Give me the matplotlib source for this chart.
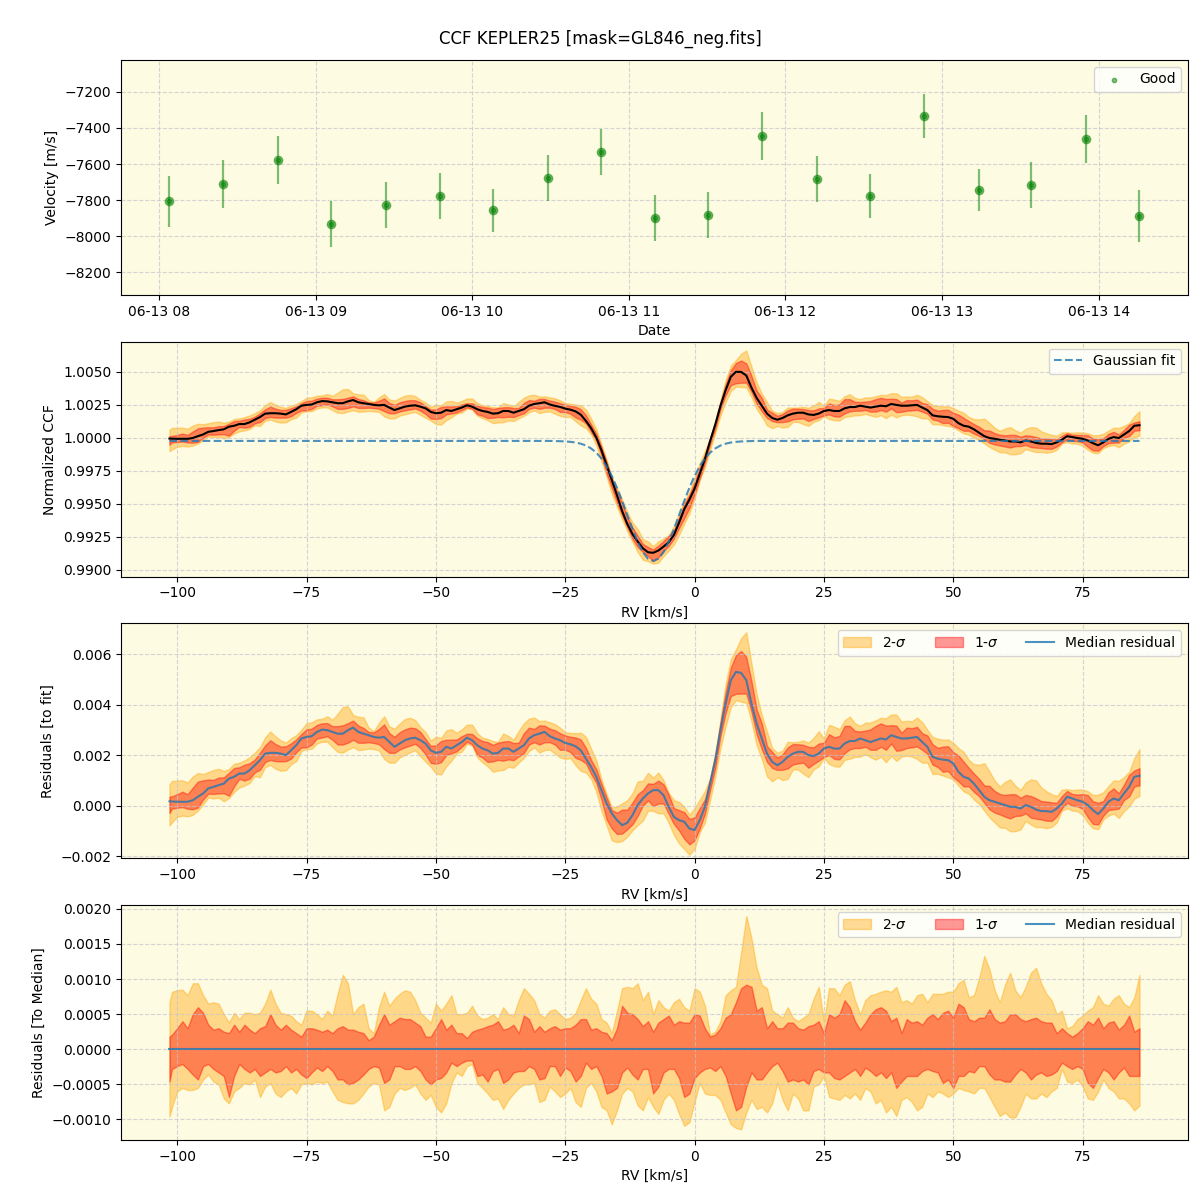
import numpy as np
import pandas as pd
import matplotlib
matplotlib.use("Agg")
import matplotlib.pyplot as plt
import matplotlib.dates as mdates

# ---------------- data: RV time series ----------------
obs_times = ["2023-06-13 08:04:00", "2023-06-13 08:24:30", "2023-06-13 08:45:30",
             "2023-06-13 09:06:00", "2023-06-13 09:27:00", "2023-06-13 09:47:30",
             "2023-06-13 10:08:00", "2023-06-13 10:29:00", "2023-06-13 10:49:30",
             "2023-06-13 11:10:00", "2023-06-13 11:30:30", "2023-06-13 11:51:00",
             "2023-06-13 12:12:00", "2023-06-13 12:32:30", "2023-06-13 12:53:00",
             "2023-06-13 13:14:00", "2023-06-13 13:34:00", "2023-06-13 13:55:00",
             "2023-06-13 14:15:40"]
velocity = [-7806, -7711, -7578, -7933, -7828, -7778, -7856, -7678, -7533, -7900,
            -7883, -7444, -7683, -7778, -7333, -7744, -7717, -7461, -7889]
velocity_err = [141, 132, 131, 127, 128, 127, 119, 129, 128, 128,
                128, 131, 127, 123, 121, 117, 127, 135, 143]

# ---------------- data: CCF profiles ----------------
rv_grid = [-101.5] + list(range(-101, 87))

# Gaussian fit (baseline and dip depth, depth in units of 1e-5)
fit_baseline = 0.99975
fit_dip_rv = list(range(-27, 12))
fit_dip_depth = [1, 2, 4, 7, 12, 21, 35, 57, 89, 133, 192, 266, 355, 455, 563, 669, 765,
                 843, 893, 910, 893, 843, 765, 669, 563, 455, 355, 266, 192, 133, 89, 57,
                 35, 21, 12, 7, 4, 2, 1]

# median residual to fit (units 1e-5)
resid_median = [18, 17, 16, 16, 16, 22, 36, 49, 69, 75, 82, 88, 108, 115, 128, 128, 141, 161,
                181, 207, 210, 210, 207, 201, 220, 240, 267, 273, 276, 293, 302, 300, 293, 286,
                286, 300, 310, 293, 286, 280, 273, 270, 273, 253, 234, 247, 260, 267, 270, 260,
                247, 220, 210, 214, 234, 227, 240, 253, 270, 260, 240, 227, 220, 207, 210, 227,
                227, 214, 227, 240, 267, 280, 286, 293, 276, 267, 260, 249, 244, 236, 220, 187,
                154, 115, 62, 9, -30, -57, -77, -67, -37, 3, 29, 49, 62, 62, 42, -4, -44, -57,
                -63, -90, -96, -57, -4, 88, 181, 300, 405, 498, 531, 527, 498, 405, 326, 267,
                207, 174, 161, 174, 194, 207, 214, 214, 201, 197, 207, 227, 234, 227, 227, 247,
                257, 257, 267, 260, 253, 260, 267, 263, 280, 273, 267, 267, 270, 273, 253, 234,
                194, 187, 183, 181, 168, 135, 115, 108, 88, 62, 36, 22, 16, 9, 3, -4, -4, -11,
                3, -4, -15, -21, -21, -24, -11, 9, 36, 29, 22, 16, 3, -17, -33, -11, 16, 29, 22,
                49, 75, 115, 119]

# band offsets relative to the median (units 1e-5)
upper_2sig = [67, 82, 84, 85, 77, 94, 94, 77, 65, 67, 65, 50, 38, 52, 43, 52, 52, 50, 52, 65,
              85, 65, 52, 50, 48, 40, 35, 55, 55, 50, 43, 55, 48, 79, 106, 94, 50, 60, 65, 30,
              23, 60, 82, 62, 72, 79, 84, 82, 70, 52, 45, 38, 65, 55, 65, 77, 50, 50, 52, 62,
              48, 43, 45, 50, 43, 60, 50, 48, 70, 87, 79, 70, 50, 45, 55, 57, 50, 43, 45, 52,
              70, 87, 72, 65, 43, 38, 23, 55, 87, 89, 87, 94, 70, 82, 50, 70, 60, 55, 67, 72,
              60, 55, 87, 82, 62, 21, 25, 40, 77, 84, 89, 138, 190, 158, 116, 92, 87, 55, 50,
              45, 60, 45, 40, 45, 50, 72, 89, 40, 87, 87, 77, 92, 97, 70, 50, 70, 77, 79, 82,
              84, 82, 89, 67, 70, 65, 77, 79, 67, 79, 79, 79, 82, 82, 94, 99, 74, 77, 101, 133,
              114, 84, 67, 92, 109, 84, 74, 89, 109, 116, 94, 79, 70, 50, 55, 30, 33, 43, 48,
              55, 60, 77, 65, 62, 72, 77, 65, 60, 74, 106]
upper_1sig = [18, 21, 30, 40, 30, 50, 60, 52, 35, 28, 30, 25, 23, 35, 25, 35, 28, 23, 30, 33,
              50, 35, 28, 35, 28, 23, 18, 30, 30, 28, 25, 28, 23, 30, 33, 28, 28, 25, 23, 13,
              18, 35, 50, 35, 40, 45, 43, 43, 38, 33, 18, 18, 30, 43, 28, 35, 23, 23, 16, 25,
              28, 30, 33, 35, 40, 28, 30, 35, 23, 48, 43, 25, 33, 25, 30, 33, 28, 30, 30, 35,
              43, 43, 28, 30, 25, 23, 13, 30, 62, 52, 50, 43, 33, 40, 25, 38, 43, 48, 35, 40,
              38, 38, 50, 48, 30, 18, 21, 30, 45, 50, 67, 87, 92, 89, 55, 60, 30, 40, 30, 30,
              38, 38, 30, 28, 33, 35, 40, 23, 50, 45, 50, 70, 60, 40, 28, 38, 50, 57, 60, 55,
              40, 45, 23, 43, 38, 40, 35, 45, 50, 43, 52, 55, 45, 65, 60, 43, 40, 45, 45, 57,
              43, 38, 40, 50, 50, 43, 40, 43, 45, 40, 38, 38, 23, 30, 23, 18, 23, 30, 40, 35,
              45, 30, 38, 40, 28, 35, 48, 25, 30]
lower_1sig = [-46, -28, -24, -21, -28, -36, -43, -24, -21, -28, -33, -38, -68, -38, -21, -28,
              -33, -28, -38, -33, -28, -33, -31, -24, -33, -28, -36, -41, -33, -26, -31, -24,
              -31, -43, -43, -50, -48, -43, -36, -28, -24, -26, -48, -43, -24, -24, -28, -28,
              -24, -31, -43, -50, -43, -41, -33, -19, -24, -19, -16, -16, -38, -36, -46, -31,
              -28, -48, -43, -33, -31, -31, -24, -28, -43, -41, -24, -24, -38, -26, -31, -46,
              -38, -19, -28, -24, -38, -63, -60, -55, -33, -26, -36, -43, -28, -28, -63, -53,
              -33, -28, -28, -41, -68, -63, -41, -33, -28, -26, -31, -24, -38, -63, -87, -82,
              -53, -33, -43, -43, -33, -24, -19, -31, -46, -43, -46, -43, -50, -31, -28, -33,
              -33, -41, -43, -38, -33, -28, -38, -26, -31, -38, -33, -41, -33, -55, -46, -38,
              -38, -38, -31, -28, -31, -33, -48, -43, -55, -38, -38, -31, -33, -24, -24, -36,
              -43, -43, -46, -46, -36, -28, -33, -43, -36, -33, -38, -36, -31, -19, -24, -28,
              -24, -28, -48, -55, -41, -28, -33, -43, -33, -26, -38, -38, -38]
lower_2sig = [-96, -82, -60, -55, -58, -58, -55, -43, -36, -46, -50, -70, -77, -60, -55, -48,
              -50, -43, -68, -53, -48, -63, -68, -60, -55, -63, -50, -48, -50, -46, -48, -46,
              -60, -72, -75, -77, -77, -72, -63, -53, -48, -50, -87, -82, -63, -55, -58, -55,
              -50, -63, -72, -65, -82, -90, -77, -48, -33, -38, -24, -21, -48, -55, -63, -72,
              -70, -85, -72, -63, -55, -50, -50, -48, -75, -72, -53, -60, -68, -63, -55, -75,
              -82, -55, -48, -60, -82, -87, -107, -87, -63, -55, -60, -80, -87, -68, -82, -92,
              -72, -63, -72, -92, -109, -104, -75, -48, -63, -65, -65, -72, -90, -107, -112,
              -114, -90, -72, -85, -82, -90, -77, -48, -72, -87, -63, -70, -87, -87, -53, -50,
              -38, -68, -70, -72, -65, -70, -63, -72, -55, -60, -77, -72, -90, -82, -95, -72,
              -68, -75, -87, -82, -63, -68, -60, -63, -68, -63, -55, -58, -60, -63, -55, -55,
              -68, -82, -95, -90, -97, -97, -82, -63, -70, -70, -63, -68, -60, -55, -28, -46,
              -48, -43, -53, -70, -72, -60, -43, -55, -60, -70, -70, -77, -87, -80]

# ---------------- build arrays ----------------
scale = 1e-5
rv = np.array(rv_grid, dtype=float)
fit = fit_baseline - np.interp(rv, fit_dip_rv, fit_dip_depth, left=0, right=0) * scale
res_med = np.array(resid_median) * scale
u2 = np.array(upper_2sig) * scale
u1 = np.array(upper_1sig) * scale
l1 = np.array(lower_1sig) * scale
l2 = np.array(lower_2sig) * scale
ccf_med = fit + res_med

times = pd.to_datetime(obs_times)

# ---------------- figure ----------------
bg = "#fefbe3"
fig, axes = plt.subplots(4, 1, figsize=(12, 12), dpi=100)
fig.subplots_adjust(left=0.1008, right=0.99, top=0.95, bottom=0.05, hspace=0.2)
fig.suptitle("CCF KEPLER25 [mask=GL846_neg.fits]", fontsize=12, y=0.975)

def style(ax):
    ax.set_facecolor(bg)
    ax.grid(True, linestyle="--", color="#c4c4cc", alpha=0.7, linewidth=0.8)

# Panel 1
ax = axes[0]
style(ax)
ax.errorbar(times, velocity, yerr=velocity_err, fmt="o", color="green", alpha=0.5,
            ms=6, elinewidth=1.6, capsize=0, zorder=3)
ax.scatter(times, velocity, s=10, color="green", alpha=0.5, label="Good", zorder=4)
ax.set_ylim(-8324, -7024)
ax.set_ylabel("Velocity [m/s]")
ax.set_xlabel("Date")
ax.xaxis.set_major_locator(mdates.HourLocator())
ax.xaxis.set_major_formatter(mdates.DateFormatter("%m-%d %H"))
ax.legend(loc="upper right")

# Panel 2
ax = axes[1]
style(ax)
ax.fill_between(rv, ccf_med + l2, ccf_med + u2, color="orange", alpha=0.4)
ax.fill_between(rv, ccf_med + l1, ccf_med + u1, color="red", alpha=0.4)
ax.plot(rv, ccf_med, color="black", lw=1.5)
ax.plot(rv, fit, color="tab:blue", alpha=0.8, ls="--", lw=1.5, label="Gaussian fit")
ax.set_ylim(0.98947, 1.00727)
ax.set_ylabel("Normalized CCF")
ax.set_xlabel("RV [km/s]")
ax.legend(loc="upper right")

# Panel 3
ax = axes[2]
style(ax)
ax.fill_between(rv, res_med + l2, res_med + u2, color="orange", alpha=0.4, label="2-$\\sigma$")
ax.fill_between(rv, res_med + l1, res_med + u1, color="red", alpha=0.4, label="1-$\\sigma$")
ax.plot(rv, res_med, color="tab:blue", alpha=0.8, lw=1.5, label="Median residual")
ax.set_ylim(-0.00208, 0.00723)
ax.set_ylabel("Residuals [to fit]")
ax.set_xlabel("RV [km/s]")
ax.legend(loc="upper right", ncol=3)

# Panel 4
ax = axes[3]
style(ax)
zero = res_med - res_med
ax.fill_between(rv, l2, u2, color="orange", alpha=0.4, label="2-$\\sigma$")
ax.fill_between(rv, l1, u1, color="red", alpha=0.4, label="1-$\\sigma$")
ax.plot(rv, zero, color="tab:blue", alpha=0.8, lw=1.5, label="Median residual")
ax.set_ylabel("Residuals [To Median]")
ax.set_xlabel("RV [km/s]")
ax.legend(loc="upper right", ncol=3)

fig.savefig("out.png", dpi=100)
